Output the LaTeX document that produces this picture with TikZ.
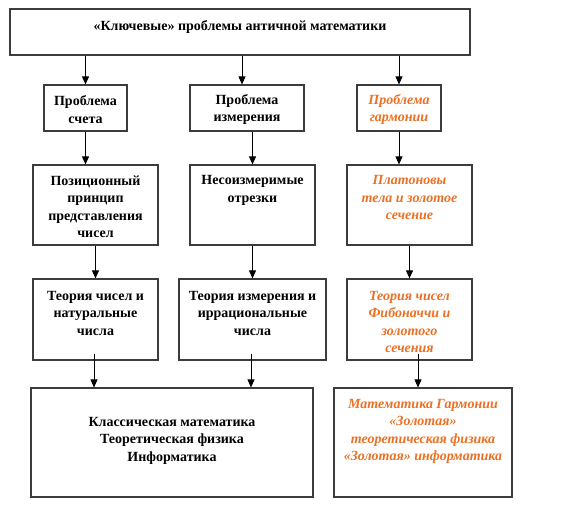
\documentclass[tikz,border=0pt]{standalone}
\usepackage{fontspec}
\setmainfont{Liberation Serif}
\usetikzlibrary{arrows.meta}
\definecolor{orng}{RGB}{236,112,36}
\definecolor{frame}{RGB}{60,60,60}
\begin{document}
\begin{tikzpicture}[x=1pt,y=1pt,
  box/.style={draw=frame,line width=1.2pt,inner sep=0pt,fill=white},
  txt/.style={inner sep=0pt,align=center,font=\fontsize{14}{17.5}\selectfont\bfseries},
  otxt/.style={txt,text=orng,font=\fontsize{14}{17.5}\selectfont\bfseries\itshape},
  arr/.style={line width=0.8pt,-{Triangle[length=8pt,width=7pt]}},
  ln/.style={line width=0.8pt}]
\useasboundingbox (0,0) rectangle (573,-504);
% boxes
\node[box,minimum width=460,minimum height=46] (top) at (240,-32) {};
\node[box,minimum width=83,minimum height=46] (a2) at (85.5,-108) {};
\node[box,minimum width=114,minimum height=46] (b2) at (247,-108) {};
\node[box,minimum width=84,minimum height=46] (c2) at (399,-108) {};
\node[box,minimum width=125,minimum height=80] (a3) at (95.5,-205) {};
\node[box,minimum width=125,minimum height=80] (b3) at (252.5,-205) {};
\node[box,minimum width=125,minimum height=80] (c3) at (409.5,-205) {};
\node[box,minimum width=125,minimum height=81] (a4) at (95.5,-319.5) {};
\node[box,minimum width=147,minimum height=81] (b4) at (252.5,-319.5) {};
\node[box,minimum width=125,minimum height=81] (c4) at (409.5,-319.5) {};
\node[box,minimum width=282,minimum height=109] (a5) at (172,-442.5) {};
\node[box,minimum width=178,minimum height=109] (c5) at (423,-442.5) {};
% texts
\node[txt,anchor=north] (ttop) at ([yshift=-12]top.north) {«Ключевые» проблемы античной математики};
\node[txt] (ta2) at ([yshift=-1.5]a2.center) {Проблема\\счета};
\node[txt] (tb2) at ([yshift=-1.5]b2.center) {Проблема\\измерения};
\node[otxt] (tc2) at ([yshift=-1.5]c2.center) {Проблема\\гармонии};
\node[txt,anchor=north] (ta3) at ([yshift=-11]a3.north) {Позиционный\\принцип\\представления\\чисел};
\node[txt,anchor=north] (tb3) at ([yshift=-11]b3.north) {Несоизмеримые\\отрезки};
\node[otxt,anchor=north] (tc3) at ([yshift=-11]c3.north) {Платоновы\\тела и золотое\\сечение};
\node[txt,anchor=north] (ta4) at ([yshift=-12.5]a4.north) {Теория чисел и\\натуральные\\числа};
\node[txt,anchor=north] (tb4) at ([yshift=-12.5]b4.north) {Теория измерения и\\иррациональные\\числа};
\node[otxt,anchor=north] (tc4) at ([yshift=-12.5]c4.north) {Теория чисел\\Фибоначчи и\\золотого\\сечения};
\node[txt] (ta5) at ([yshift=2]a5.center) {Классическая математика\\Теоретическая физика\\Информатика};
\node[otxt,anchor=north] (tc5) at ([yshift=-11.5]c5.north) {Математика Гармонии\\«Золотая»\\теоретическая физика\\«Золотая» информатика};
% connectors
\draw[arr] (a2.north |- top.south) -- (a2.north);
\draw[arr] ([xshift=-5]b2.north |- top.south) -- ([xshift=-5]b2.north);
\draw[arr] (c2.north |- top.south) -- (c2.north);
\draw[arr] (a2.south) -- (a2.south |- a3.north);
\draw[arr] (b3.north |- b2.south) -- (b3.north);
\draw[arr] (c2.south) -- (c2.south |- c3.north);
\draw[arr] (a3.south) -- (a4.north);
\draw[arr] (b3.south) -- (b4.north);
\draw[arr] (c3.south) -- (c4.north);
\draw[arr] ([xshift=-1.5,yshift=7]a4.south) -- ([xshift=-1.5]a4.south |- a5.north);
\draw[arr] ([xshift=-1.5,yshift=7]b4.south) -- ([xshift=-1.5]b4.south |- a5.north);
\draw[arr] ([xshift=8.5,yshift=7]c4.south) -- ([xshift=8.5]c4.south |- c5.north);
\end{tikzpicture}
\end{document}
